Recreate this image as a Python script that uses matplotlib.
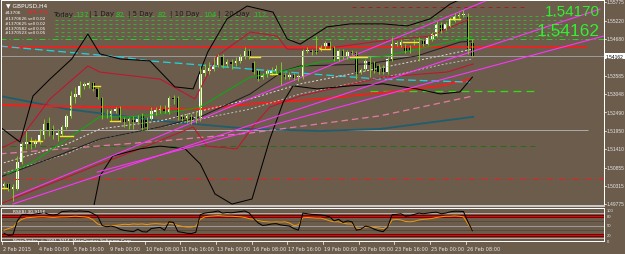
import numpy as np
import matplotlib.pyplot as plt

W, H = 625, 255
BG = '#6b5c4c'
PX = 0.72  # one pixel in points

# ---- candles (GBPUSD H4) ----
opens = [1.5031, 1.5037, 1.5022, 1.5022, 1.5102, 1.5155, 1.5161, 1.5155, 1.5164, 1.5182,
         1.5218, 1.5200, 1.5182, 1.5185, 1.5206, 1.5239, 1.5295, 1.5301, 1.5328, 1.5331,
         1.5337, 1.5319, 1.5292, 1.5241, 1.5236, 1.5253, 1.5262, 1.5230, 1.5224, 1.5227,
         1.5221, 1.5241, 1.5230, 1.5230, 1.5250, 1.5256, 1.5259, 1.5250, 1.5292, 1.5292,
         1.5236, 1.5233, 1.5236, 1.5230, 1.5233, 1.5366, 1.5372, 1.5378, 1.5390, 1.5417,
         1.5393, 1.5399, 1.5396, 1.5402, 1.5414, 1.5432, 1.5396, 1.5372, 1.5354, 1.5363,
         1.5366, 1.5372, 1.5372, 1.5360, 1.5354, 1.5360, 1.5354, 1.5354, 1.5432, 1.5432,
         1.5432, 1.5435, 1.5443, 1.5455, 1.5443, 1.5408, 1.5432, 1.5414, 1.5429, 1.5426,
         1.5369, 1.5378, 1.5399, 1.5396, 1.5387, 1.5381, 1.5369, 1.5408, 1.5452, 1.5449,
         1.5446, 1.5443, 1.5455, 1.5455, 1.5461, 1.5452, 1.5467, 1.5476, 1.5512, 1.5497,
         1.5506, 1.5521, 1.5536, 1.5538, 1.5533, 1.5455]
highs = [1.5043, 1.5040, 1.5037, 1.5120, 1.5161, 1.5194, 1.5176, 1.5170, 1.5200, 1.5230,
         1.5236, 1.5212, 1.5200, 1.5212, 1.5244, 1.5313, 1.5325, 1.5342, 1.5339, 1.5342,
         1.5339, 1.5325, 1.5295, 1.5259, 1.5259, 1.5265, 1.5268, 1.5236, 1.5236, 1.5239,
         1.5241, 1.5247, 1.5236, 1.5265, 1.5265, 1.5271, 1.5271, 1.5298, 1.5301, 1.5298,
         1.5244, 1.5247, 1.5244, 1.5253, 1.5387, 1.5393, 1.5399, 1.5414, 1.5423, 1.5423,
         1.5408, 1.5408, 1.5414, 1.5423, 1.5443, 1.5437, 1.5402, 1.5378, 1.5366, 1.5378,
         1.5384, 1.5390, 1.5399, 1.5366, 1.5369, 1.5366, 1.5363, 1.5437, 1.5443, 1.5437,
         1.5476, 1.5449, 1.5461, 1.5461, 1.5446, 1.5437, 1.5437, 1.5435, 1.5435, 1.5432,
         1.5381, 1.5408, 1.5417, 1.5402, 1.5393, 1.5390, 1.5414, 1.5473, 1.5461, 1.5467,
         1.5452, 1.5449, 1.5467, 1.5473, 1.5467, 1.5476, 1.5488, 1.5521, 1.5518, 1.5518,
         1.5533, 1.5544, 1.5547, 1.5553, 1.5544, 1.5467]
lows = [1.5022, 1.5016, 1.4986, 1.5019, 1.5096, 1.5141, 1.5141, 1.5146, 1.5155, 1.5170,
        1.5179, 1.5170, 1.5164, 1.5179, 1.5200, 1.5233, 1.5277, 1.5295, 1.5319, 1.5322,
        1.5313, 1.5289, 1.5230, 1.5233, 1.5224, 1.5247, 1.5221, 1.5206, 1.5200, 1.5200,
        1.5215, 1.5197, 1.5197, 1.5227, 1.5241, 1.5247, 1.5247, 1.5244, 1.5274, 1.5227,
        1.5224, 1.5218, 1.5215, 1.5218, 1.5224, 1.5357, 1.5363, 1.5372, 1.5384, 1.5381,
        1.5384, 1.5378, 1.5387, 1.5396, 1.5408, 1.5408, 1.5363, 1.5342, 1.5348, 1.5354,
        1.5360, 1.5363, 1.5331, 1.5348, 1.5348, 1.5345, 1.5342, 1.5348, 1.5426, 1.5420,
        1.5423, 1.5432, 1.5437, 1.5437, 1.5402, 1.5402, 1.5408, 1.5408, 1.5420, 1.5348,
        1.5363, 1.5372, 1.5354, 1.5366, 1.5363, 1.5363, 1.5363, 1.5402, 1.5446, 1.5443,
        1.5426, 1.5426, 1.5449, 1.5402, 1.5446, 1.5449, 1.5461, 1.5473, 1.5485, 1.5494,
        1.5503, 1.5518, 1.5530, 1.5533, 1.5423, 1.5414]
closes = [1.5037, 1.5022, 1.5028, 1.5102, 1.5155, 1.5161, 1.5155, 1.5164, 1.5182, 1.5215,
          1.5194, 1.5182, 1.5188, 1.5206, 1.5239, 1.5298, 1.5304, 1.5328, 1.5334, 1.5337,
          1.5319, 1.5295, 1.5241, 1.5247, 1.5253, 1.5259, 1.5227, 1.5221, 1.5230, 1.5221,
          1.5236, 1.5203, 1.5206, 1.5253, 1.5256, 1.5262, 1.5253, 1.5292, 1.5289, 1.5233,
          1.5230, 1.5239, 1.5227, 1.5236, 1.5363, 1.5375, 1.5381, 1.5390, 1.5417, 1.5390,
          1.5399, 1.5393, 1.5402, 1.5414, 1.5432, 1.5414, 1.5369, 1.5348, 1.5360, 1.5372,
          1.5375, 1.5378, 1.5360, 1.5354, 1.5360, 1.5351, 1.5357, 1.5432, 1.5435, 1.5429,
          1.5429, 1.5443, 1.5455, 1.5443, 1.5408, 1.5432, 1.5414, 1.5429, 1.5426, 1.5363,
          1.5375, 1.5402, 1.5390, 1.5372, 1.5369, 1.5369, 1.5408, 1.5452, 1.5455, 1.5458,
          1.5432, 1.5432, 1.5458, 1.5458, 1.5452, 1.5470, 1.5482, 1.5512, 1.5491, 1.5512,
          1.5527, 1.5536, 1.5538, 1.5541, 1.5438, 1.54162]

# ---- indicator lines (bar index, price) ----
bb_up_x = [-0.9, 3.6, 6.5, 10.3, 15.2, 18.8, 21.5, 26, 32.7, 38.3, 42.4, 45.7, 50, 54.5,
           60.3, 63.5, 66.4, 72.4, 77.6, 85, 90.4, 95.5, 100, 105]
bb_up_y = [1.5206, 1.5161, 1.5298, 1.5348, 1.5408, 1.5482, 1.5423, 1.5408, 1.5402, 1.5325,
           1.5319, 1.5429, 1.5527, 1.5565, 1.5547, 1.5467, 1.5452, 1.5503, 1.5512, 1.5512,
           1.5506, 1.5527, 1.5571, 1.5601]
bb_lo_x = [-0.9, 10, 17, 20, 21.5, 24.4, 30.5, 35, 40.6, 44, 47.3, 51.1, 55.6, 59.6, 62.6,
           64.8, 70.2, 77.6, 85, 92.6, 97.8, 102.2, 105]
bb_lo_y = [1.4918, 1.4947, 1.4933, 1.4962, 1.5060, 1.5120, 1.5141, 1.5149, 1.5141, 1.5096,
           1.5007, 1.4977, 1.4992, 1.5170, 1.5280, 1.5328, 1.5319, 1.5328, 1.5334, 1.5319,
           1.5304, 1.5310, 1.5354]
bb_mid_x = [-0.9, 11.9, 21.5, 35, 44, 55.2, 62.6, 66.4, 81.4, 92.6, 102.2, 105]
bb_mid_y = [1.5057, 1.5120, 1.5170, 1.5206, 1.5236, 1.5304, 1.5372, 1.5387, 1.5393, 1.5417,
            1.5458, 1.5461]
env_up_x = [-0.9, 3.6, 10.3, 18.8, 21.5, 35, 42.8, 47.8, 55.2, 61.2, 63.5, 70.9, 84.3, 95.5, 104.5]
env_up_y = [1.5141, 1.5170, 1.5289, 1.5387, 1.5369, 1.5348, 1.5289, 1.5417, 1.5488, 1.5476,
            1.5437, 1.5437, 1.5461, 1.5476, 1.5527]
env_lo_x = [-0.9, 21.5, 30.5, 42.4, 45.5, 52.2, 56.3, 59.6, 66.4, 85, 99.3, 105.2]
env_lo_y = [1.4977, 1.5096, 1.5141, 1.5206, 1.5149, 1.5141, 1.5215, 1.5265, 1.5298, 1.5354,
            1.5369, 1.5393]
ma_green_x = [0.7, 6.5, 14.1, 21.5, 28.3, 35, 44, 50.7, 55.2, 61.9, 70.9, 77.6, 84.3, 91, 97.8, 105]
ma_green_y = [1.5066, 1.5102, 1.5170, 1.5236, 1.5236, 1.5244, 1.5265, 1.5319, 1.5354, 1.5369,
              1.5399, 1.5408, 1.5414, 1.5432, 1.5452, 1.5473]
ma_red_x = [-0.9, 32.7, 44, 55.2, 70.9, 88.8, 97.8, 104.5]
ma_red_y = [1.5271, 1.5262, 1.5259, 1.5274, 1.5289, 1.5313, 1.5328, 1.5348]
ma_teal_x = [-0.9, 14.1, 35, 55.2, 70.9, 84.3, 105.2]
ma_teal_y = [1.5298, 1.5259, 1.5224, 1.5200, 1.5194, 1.5200, 1.5236]
cyan_x = [-0.9, 26, 32.7, 44, 66.4, 84.3, 104.5]
cyan_y = [1.5446, 1.5414, 1.5402, 1.5390, 1.5366, 1.5348, 1.5339]
pink_x = [-0.9, 35, 55.2, 84.3, 105.2]
pink_y = [1.5126, 1.5164, 1.5188, 1.5239, 1.5298]
dot_x = [-0.9, 14.1, 21.5, 35, 55.2, 66.4, 77.6, 88.8, 97.8, 105]
dot1_y = [1.5096, 1.5155, 1.5200, 1.5224, 1.5289, 1.5334, 1.5363, 1.5393, 1.5417, 1.5437]
dot2_y = [1.5066, 1.5126, 1.5170, 1.5206, 1.5259, 1.5304, 1.5334, 1.5363, 1.5390, 1.5408]
# trend lines: (x0, y0, x1, y1)
trends = [(2.0, 1.4998, 109.0, 1.5586),
          (2.0, 1.4977, 133.6, 1.5556),
          (20.9, 1.5072, 134.5, 1.5476)]
# short yellow marks: (bar from, bar to, price)
marks = [(-0.9, 0.7, 1.5025), (5.8, 8.5, 1.5164), (12.6, 15.5, 1.5179), (20, 21.5, 1.5328),
         (23.8, 26, 1.5224), (55.2, 57.4, 1.5414), (59.6, 61.2, 1.5363), (70.9, 73.1, 1.5437),
         (77.6, 81.4, 1.5414), (89.5, 92.6, 1.5458), (100, 102.2, 1.5527)]

# ---- RSI ----
rsi_fast = [25, 18, 20, 65, 85, 86, 84, 87, 89, 92, 86, 84, 86, 95, 96, 97, 96, 97, 96, 95,
            88, 80, 50, 46, 48, 45, 38, 34, 32, 30, 38, 30, 29, 40, 42, 44, 35, 62, 60, 30,
            28, 25, 24, 28, 85, 90, 92, 94, 97, 90, 92, 91, 93, 95, 97, 90, 72, 58, 50, 52,
            55, 56, 52, 50, 48, 40, 35, 90, 88, 86, 85, 84, 82, 78, 65, 70, 60, 65, 62, 35,
            38, 48, 45, 38, 33, 30, 45, 85, 86, 88, 80, 82, 86, 90, 88, 90, 92, 93, 88, 90,
            94, 96, 96, 95, 62, 33]
rsi_slow = [35, 40, 45, 60, 70, 75, 76, 77, 78, 78, 77, 76, 77, 78, 78, 79, 80, 79, 78, 76,
            68, 55, 50, 48, 49, 50, 52, 54, 53, 55, 54, 55, 53, 55, 56, 55, 54, 57, 55, 50,
            47, 45, 45, 48, 70, 78, 80, 81, 82, 81, 80, 80, 79, 78, 76, 72, 70, 66, 63, 62,
            61, 62, 61, 62, 58, 50, 52, 75, 76, 75, 74, 74, 70, 65, 62, 62, 58, 55, 55, 42,
            40, 44, 45, 44, 42, 40, 45, 68, 70, 68, 63, 62, 64, 68, 70, 71, 73, 76, 78, 80,
            80, 81, 80, 78, 55, 35]

price_ticks = [1.55775, 1.55220, 1.54680, 1.54162, 1.53585, 1.53048, 1.52490,
               1.51950, 1.51410, 1.50855, 1.50315, 1.49775]
rsi_ticks = [100, 80, 50, 20, 0]
time_labels = ["2 Feb 2015", "4 Feb 00:00", "5 Feb 16:00", "9 Feb 00:00", "10 Feb 08:00",
               "11 Feb 16:00", "13 Feb 00:00", "16 Feb 08:00", "17 Feb 16:00", "19 Feb 00:00",
               "20 Feb 08:00", "23 Feb 16:00", "25 Feb 00:00", "26 Feb 08:00"]
day_names = ["Today", "| 1 Day", "| 5 Day", "| 10 Day", "|  20 Day"]
day_vals = ["137", "82", "82", "104", "112"]
orders = ["#1370626 sell 0.02", "#1370625 sell 0.02", "#1370582 sell 0.05", "#1370523 sell 0.05"]

bid, ask = 1.54162, 1.54170
red_level, gray_level, dashdot_level = 1.5443, 1.5197, 1.5051
dkgreen_level, green_level, green_dd_level = 1.5149, 1.5313, 1.5467
grid_levels = [1.5536, 1.5524, 1.5512, 1.5500, 1.5488, 1.5476]
dkred_level = 1.5562


def fx(px):
    return px / W


def fy(py):
    return 1 - py / H


fig = plt.figure(figsize=(W / 100, H / 100), dpi=100, facecolor=BG)

# main price panel: pixel x 1..604, y 1..207
ax = fig.add_axes([fx(1), fy(207), fx(603), 206 / H], facecolor=BG)
ax.set_xlim(-0.67, 134.5)
ax.set_ylim(1.49712, 1.55830)
for s in ax.spines.values():
    s.set_color('white')
    s.set_linewidth(PX)
ax.spines['bottom'].set_color('#c8c8c8')
ax.spines['bottom'].set_linewidth(2 * PX)
ax.set_xticks([])
ax.set_yticks([])

# horizontal levels
ax.hlines(grid_levels, 11.4, 125, colors='#33b233', lw=PX, linestyles=(0, (3, 3)))
ax.hlines(green_dd_level, -1, 135, colors='#2ecc2e', lw=PX, linestyles=(0, (6, 3, 1, 3)))
ax.hlines(dkred_level, 78, 117, colors='#a02020', lw=PX, linestyles=(0, (4, 4)))
ax.hlines(red_level, -1, 130.7, colors='#ff1a1a', lw=1.6 * PX)
ax.hlines(gray_level, -1, 131, colors='#a8a8a8', lw=PX)
ax.hlines(dashdot_level, -1, 135, colors='#ee1c1c', lw=PX, linestyles=(0, (6, 3, 1, 3)))
ax.hlines(dkgreen_level, -1, 119, colors='#2a6a1a', lw=PX, linestyles=(0, (6, 4)))
ax.hlines(green_level, 82, 119, colors='#33dd11', lw=1.3 * PX, linestyles=(0, (6, 4)))
ax.hlines(bid, -1, 135, colors='#9a9a9a', lw=PX)

# moving averages / bands
ax.plot(ma_teal_x, ma_teal_y, color='#1f5e6e', lw=1.8 * PX)
ax.plot(ma_red_x, ma_red_y, color='#ff1a1a', lw=1.8 * PX)
ax.plot(pink_x, pink_y, color='#e07aa0', lw=1.3 * PX, ls=(0, (5, 3)))
ax.plot(cyan_x, cyan_y, color='#22d0e0', lw=1.3 * PX, ls=(0, (6, 3)))
ax.plot(dot_x, dot1_y, color='#d8d8d8', lw=PX, ls=(0, (2, 2)))
ax.plot(dot_x, dot2_y, color='#bdbdbd', lw=PX, ls=(0, (2, 2)))
ax.plot(env_up_x, env_up_y, color='#c8102e', lw=PX)
ax.plot(env_lo_x, env_lo_y, color='#c8102e', lw=PX)
ax.plot(bb_up_x, bb_up_y, color='black', lw=PX)
ax.plot(bb_lo_x, bb_lo_y, color='black', lw=PX)
ax.plot(bb_mid_x, bb_mid_y, color='#202020', lw=PX)
ax.plot(ma_green_x, ma_green_y, color='#16a316', lw=1.2 * PX)
for x0, y0, x1, y1 in trends:
    ax.plot([x0, x1], [y0, y1], color='#ff33ff', lw=1.1 * PX)

# candles
idx = np.arange(len(closes))
o = np.array(opens)
c = np.array(closes)
ax.vlines(idx, lows, highs, colors='#7cc41f', lw=PX)
up = c >= o
body = np.maximum(np.abs(c - o), 0.00012)
ax.bar(idx[up], body[up], bottom=o[up], width=0.6, color='white', lw=0)
ax.bar(idx[~up], body[~up], bottom=c[~up], width=0.6, color='black', lw=0)
for a, b, p in marks:
    ax.plot([a, b], [p, p], color='#f5e61e', lw=1.4 * PX)

# header texts
fig.text(fx(6), fy(6), "\u25bc GBPUSD,H4", color='white', fontsize=4.2, va='center')
xs = [53, 89, 128, 170, 218]
vx = [75, 115, 157, 203, 253]
for n, v, a, b in zip(day_names, day_vals, xs, vx):
    fig.text(fx(a), fy(15), n, color='#1c1c1c', fontsize=5.0, va='center')
    fig.text(fx(b), fy(15), v, color='#22cc22', fontsize=5.0, va='center')
fig.text(fx(5), fy(13), "#13706", color='white', fontsize=3.0, va='center')
fig.text(fx(26), fy(13), "125.7%", color='#ff2020', fontsize=4.2, va='center')
for k, t in enumerate(orders):
    fig.text(fx(5), fy(19 + 4.8 * k), t, color='white', fontsize=3.0, va='center')
fig.text(fx(600), fy(12), f"{ask:.5f}", color='#33ee33', fontsize=11, ha='right',
         va='center', family='Liberation Sans')
fig.text(fx(600), fy(31), f"{bid:.5f}", color='#33ee33', fontsize=12.5, ha='right',
         va='center', family='Liberation Sans')

# price axis labels
for p in price_ticks:
    ypx = (1.5586 - p) / 0.000297
    if p == bid:
        fig.text(fx(606), fy(ypx), f"{p:.5f}", color='black', fontsize=3.5, va='center',
                 family='Liberation Sans',
                 bbox=dict(facecolor='white', edgecolor='none', pad=0.5))
    else:
        fig.text(fx(606.5), fy(ypx), f"{p:.5f}", color='#e8e8e8', fontsize=3.5, va='center',
                 family='Liberation Sans')
        fig.lines.append(plt.Line2D([fx(604), fx(606)], [fy(ypx), fy(ypx)],
                                    transform=fig.transFigure, color='white', lw=0.5))

# RSI panel: pixel y 209..242
ax2 = fig.add_axes([fx(1), fy(242), fx(603), 33 / H], facecolor=BG)
ax2.set_xlim(-0.67, 134.5)
ax2.set_ylim(0, 106.5)
for s in ax2.spines.values():
    s.set_color('white')
    s.set_linewidth(PX)
ax2.spines['bottom'].set_linestyle((0, (1, 1)))
ax2.set_xticks([])
ax2.set_yticks([])
ax2.axhline(50, color='#9a9a9a', lw=PX)
ax2.axhline(65, color='#5a4a3a', lw=PX)
ax2.axhline(35, color='#5a4a3a', lw=PX)
ax2.axhline(80, color='#7a0000', lw=3 * PX)
ax2.axhline(20, color='#7a0000', lw=3 * PX)
ax2.axhline(80, color='#ff1a1a', lw=0.6 * PX)
ax2.axhline(20, color='#ff1a1a', lw=0.6 * PX)
ax2.axhline(90, color='white', lw=PX, ls=(0, (1, 1)))
ax2.axhline(10, color='white', lw=PX, ls=(0, (1, 1)))
ax2.plot(idx, rsi_slow, color='#f0960a', lw=PX)
ax2.plot(idx, rsi_fast, color='black', lw=PX)
ax2.text(2, 97, "RSI(8) 30.9156", color='white', fontsize=3.2, va='center')
ax2.text(2, 4, "MetaTrader, \u00a9 2001-2014, MetaQuotes Software Corp.", color='white',
         fontsize=3.2, va='center')
for v in rsi_ticks:
    fig.text(fx(606.5), fy(242 - v * 0.31), str(v), color='#e8e8e8', fontsize=3.0,
             va='center', family='Liberation Sans')

# time axis
for k, t in enumerate(time_labels):
    xpx = 4 + 4.46 * 8 * k
    fig.text(fx(xpx - 1), fy(250), t, color='#e8e8e8', fontsize=3.6, va='center')
    fig.lines.append(plt.Line2D([fx(xpx - 2)] * 2, [fy(242), fy(245)],
                                transform=fig.transFigure, color='white', lw=0.5))

fig.savefig('out.png', dpi=100, facecolor=BG)
